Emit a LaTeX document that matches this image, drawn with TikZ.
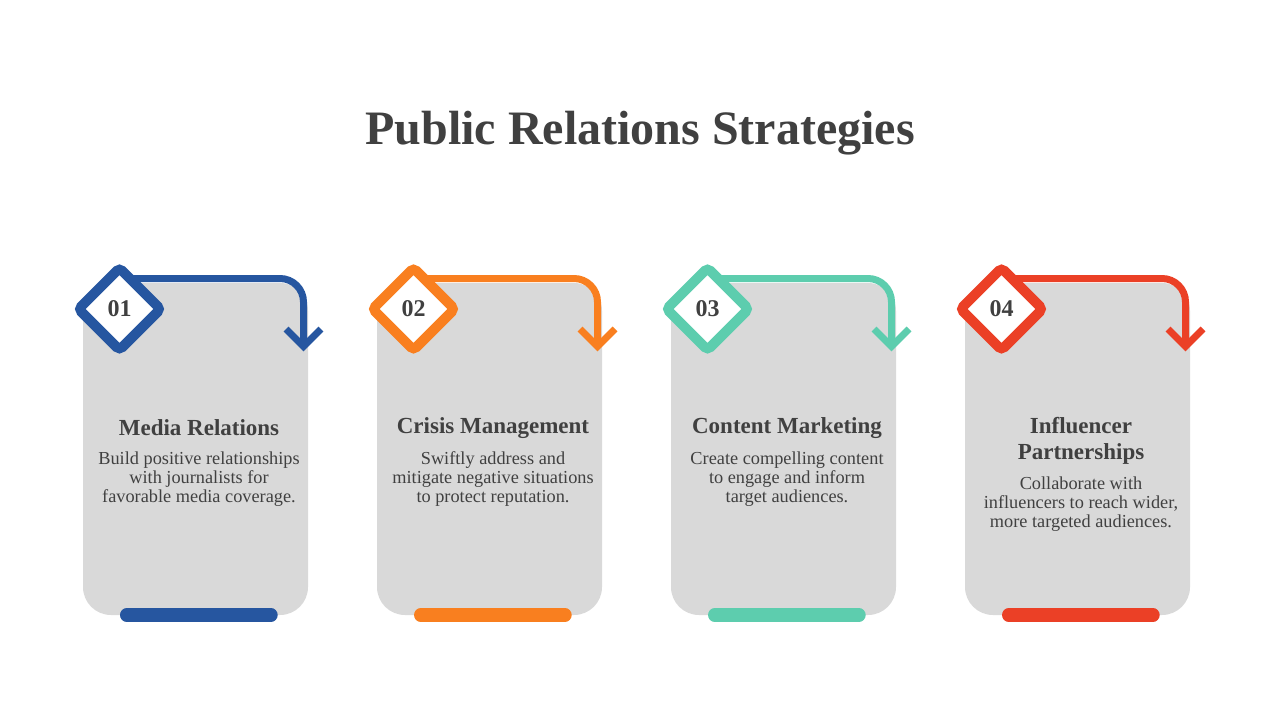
\documentclass[tikz,border=0pt]{standalone}
\usepackage{fontspec}
\setmainfont{Liberation Serif}
\usetikzlibrary{positioning,shapes.geometric}

\definecolor{prblue}{HTML}{2656A0}
\definecolor{prorange}{HTML}{F97F1F}
\definecolor{prteal}{HTML}{5DCDAE}
\definecolor{prred}{HTML}{EB4026}
\definecolor{cardgray}{HTML}{D9D9D9}
\definecolor{txtgray}{HTML}{404040}

\begin{document}
\begin{tikzpicture}[x=1pt, y=-1pt,
  card/.style={fill=cardgray, rounded corners=28pt},
  arrowline/.style={line width=7pt, rounded corners=23.5pt},
  arrowtip/.style={line width=7pt, miter limit=4},
  rhomb/.style={diamond, aspect=1, draw, line width=10pt, fill=white, rounded corners=4pt, minimum size=86pt, inner sep=0pt},
  numtext/.style={text=txtgray, font=\fontsize{24}{26}\selectfont\bfseries},
  headtext/.style={text=txtgray, align=center, font=\fontsize{23}{26}\selectfont\bfseries},
  bodytext/.style={text=txtgray, align=center, font=\fontsize{18.3}{19}\selectfont},
  bar/.style={line width=13.4pt, line cap=round}]

%Canvas
\fill[white] (0,0) rectangle (1280,720);
\useasboundingbox (0,0) rectangle (1280,720);

%Title
\node[text=txtgray, font=\fontsize{48}{52}\selectfont\bfseries] (title) at (640,133) {Public Relations Strategies};

%Cards
\foreach \X/\col/\num/\head/\body/\hy/\by [count=\i] in {
  83/prblue/01/{Media Relations}/{Build positive relationships\\with journalists for\\favorable media coverage.}/428/479,
  377/prorange/02/{Crisis Management}/{Swiftly address and\\mitigate negative situations\\to protect reputation.}/428/479,
  671/prteal/03/{Content Marketing}/{Create compelling content\\to engage and inform\\target audiences.}/428/479,
  965/prred/04/{Influencer\\Partnerships}/{Collaborate with\\influencers to reach wider,\\more targeted audiences.}/441/504}
{
  \fill[card] (\X,283) rectangle (\X+225,615);
  % arrow
  \coordinate (start\i) at (\X+36.5,278.5);
  \coordinate (tip\i) at (\X+220.5,346.5);
  \draw[arrowline, \col] (start\i) -- (tip\i |- start\i) -- (tip\i);
  \draw[arrowtip, \col] (\X+203,329) -- (tip\i) -- (\X+238,329);
  % number
  \node[rhomb, draw=\col] (mark\i) at (\X+36.5,309) {};
  \node[numtext] (num\i) at (mark\i) {\num};
  % texts
  \node[headtext] (head\i) at (\X+116,\hy) {\head};
  \node[bodytext] (body\i) at (\X+116,\by) {\body};
  % bar
  \draw[bar, \col] (\X+43.7,615) -- (\X+188,615);
}

\end{tikzpicture}
\end{document}
